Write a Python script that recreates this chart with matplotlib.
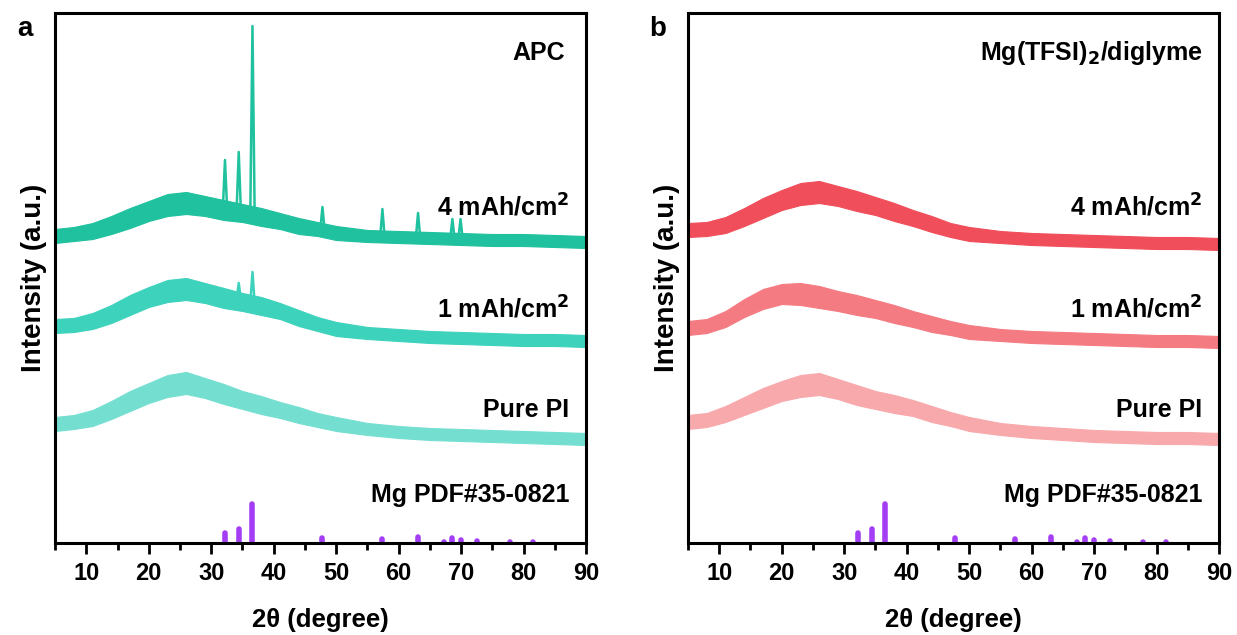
import numpy as np
import matplotlib
matplotlib.use("Agg")
import matplotlib.pyplot as plt

plt.rcParams['font.family'] = ['Liberation Sans', 'DejaVu Sans']
plt.rcParams['font.weight'] = 'bold'

two_theta = [5, 8, 11, 14, 17, 20, 23, 26, 29, 32, 35, 38, 41, 44, 47, 50, 55, 60, 65, 70, 75, 80, 85, 90]

# panel a (APC) - stacked, arbitrary units
apc_4mah = [307, 309, 312, 318, 325, 332, 338, 340, 337, 333, 330, 326, 322, 317, 314, 310, 307, 306, 305, 304, 303, 303, 302, 301]
apc_1mah = [217, 218, 222, 229, 238, 246, 252, 254, 250, 245, 241, 237, 232, 225, 219, 214, 210, 208, 206, 205, 204, 203, 203, 202]
apc_pi = [119, 121, 125, 133, 142, 150, 157, 160, 155, 149, 143, 138, 133, 128, 123, 119, 114, 111, 109, 108, 107, 106, 105, 104]

# panel b (Mg(TFSI)2/diglyme)
tfsi_4mah = [313, 314, 318, 326, 335, 343, 349, 351, 347, 342, 337, 331, 325, 319, 313, 309, 306, 304, 303, 302, 301, 300, 300, 299]
tfsi_1mah = [215, 217, 224, 235, 244, 249, 249, 246, 242, 238, 234, 229, 224, 219, 215, 211, 208, 206, 205, 204, 203, 202, 202, 201]
tfsi_pi = [121, 123, 129, 137, 145, 152, 157, 159, 154, 148, 143, 139, 135, 129, 124, 119, 114, 111, 109, 107, 106, 105, 105, 104]

# noise half-width of the bands
noise_hw = [7, 7, 8, 9, 10, 10, 11, 11, 10, 10, 9, 9, 8, 8, 7, 7, 6, 6, 6, 6, 6, 6, 6, 6]

# sharp Mg peaks: position, top, base
apc4_peak_pos = [32.2, 34.4, 36.6, 47.8, 57.4, 63.1, 68.6, 69.9]
apc4_peak_top = [383, 391, 517, 336, 334, 330, 324, 324]
apc4_peak_base = [333, 331, 329, 313, 306, 305, 304, 304]
apc1_peak_pos = [32.2, 34.4, 36.6]
apc1_peak_top = [252, 260, 271]
apc1_peak_base = [245, 243, 240]

# Mg PDF#35-0821 reference sticks
pdf_pos = [32.2, 34.4, 36.6, 47.8, 57.4, 63.1, 67.3, 68.6, 70.0, 72.5, 77.8, 81.5]
pdf_int = [9.5, 13.5, 38.5, 5, 4, 6, 1, 4.5, 3, 1.5, 1, 1]

labels = ['4 mAh/cm$^\\mathbf{2}$', '1 mAh/cm$^\\mathbf{2}$', 'Pure PI', 'Mg PDF#35-0821']
label_y = [336, 234, 133, 48]

teal = ['#1fc19e', '#3dd2bc', '#74dfd1']
red = ['#f04e5a', '#f57b82', '#f8a9ac']
purple = '#a43ef4'

fig = plt.figure(figsize=(12.37, 6.35), dpi=100)
ax_a = fig.add_axes([0.0445, 0.1449, 0.4293, 0.8346])
ax_b = fig.add_axes([0.5562, 0.1449, 0.4293, 0.8346])

x = np.array(two_theta)
hw = np.array(noise_hw)

panels = [
    (ax_a, [apc_4mah, apc_1mah, apc_pi], teal, 'APC', 'a', 86.6),
    (ax_b, [tfsi_4mah, tfsi_1mah, tfsi_pi], red, 'Mg(TFSI)$_\\mathbf{2}$/diglyme', 'b', 87.4),
]

for ax, traces, cols, title, letter, title_x in panels:
    for tr, c in zip(traces, cols):
        y = np.array(tr)
        ax.fill_between(x, y - hw, y + hw, color=c, lw=0.8, edgecolor=c)
    for p, h in zip(pdf_pos, pdf_int):
        ax.plot([p, p], [0, h], color=purple, lw=4, solid_capstyle='round')
    ax.set_xlim(5, 90)
    ax.set_ylim(0, 530)
    ax.set_xticks(range(10, 91, 10))
    ax.set_xticks(range(5, 91, 10), minor=True)
    ax.set_yticks([])
    ax.tick_params(axis='x', which='major', length=8, width=2, labelsize=17, pad=6)
    ax.tick_params(axis='x', which='minor', length=5, width=2)
    for s in ax.spines.values():
        s.set_linewidth(2.2)
    ax.set_xlabel('2θ (degree)', fontsize=18.5, fontweight='bold', labelpad=16)
    ax.set_ylabel('Intensity (a.u.)', fontsize=20, fontweight='bold', labelpad=6)
    for t, ly in zip(labels, label_y):
        ax.text(87.3, ly, t, ha='right', va='center', fontsize=18, fontweight='bold')
    ax.text(title_x, 490, title, ha='right', va='center', fontsize=18, fontweight='bold')
    ax.text(-0.057, 0.97, letter, transform=ax.transAxes, fontsize=20, fontweight='bold', va='center', ha='center')

for p, t, b in zip(apc4_peak_pos, apc4_peak_top, apc4_peak_base):
    ax_a.plot([p - 0.35, p, p + 0.35], [b, t, b], color=teal[0], lw=1.8)
for p, t, b in zip(apc1_peak_pos, apc1_peak_top, apc1_peak_base):
    ax_a.plot([p - 0.35, p, p + 0.35], [b, t, b], color=teal[1], lw=1.8)

fig.savefig('out.png', dpi=100)
